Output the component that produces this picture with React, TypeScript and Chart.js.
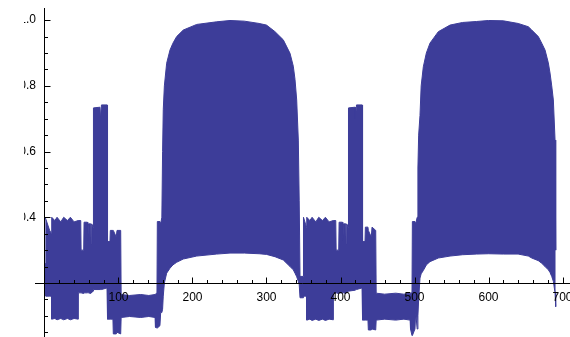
import React, { useEffect, useRef } from "react";
import { Chart, registerables } from "chart.js";

Chart.register(...registerables);

// x positions of envelope samples
const xs = [
  1, 2, 7, 9.5,
  9.8, 14, 17, 22, 26, 31, 35, 40, 45.5,
  45.8, 49, 49.5, 53, 53.5, 58, 58.5, 59.5, 62.5, 63, 63.8, 65.8,
  66.2, 75, 75.6, 77, 84.5,
  85.2, 88.5, 89, 92.5, 93, 97, 98, 103,
  103.6, 115, 130, 141, 149.5, 150, 152,
  152.5, 156, 157,
  158.6, 159.6, 160.5, 162, 165.1, 169.6, 173.6, 178.6, 187.6, 205.7, 232.7, 250.7, 270, 290, 300, 311.5, 322.7, 331.8, 336.2, 338.5, 340.8, 343, 344.2, 345.3,
  349.5, 350, 354,
  354.4, 358.6, 361.6, 366.6, 370.6, 375.6, 379.6, 384.6, 390.1,
  390.4, 393.6, 394.1, 397.6, 398.1, 402.6, 403.1, 404.1, 407.1, 407.6, 408.4, 410.4,
  410.8, 419.6, 420.2, 421.6, 429.1,
  429.8, 433.1, 433.6, 437.1, 437.6, 441.6, 442.6, 447.6,
  448.2, 459.6, 474.6, 485.6, 494.1, 494.6, 496.6,
  497.1, 500.6, 501.6,
  503.6, 504.6, 505.6, 507.4, 509, 511.9, 516, 520.9, 532.2, 548, 565, 584, 600, 620, 640, 653.8, 658.4, 667.3, 671.9, 676.4, 680.8, 683.1, 685.4, 687.6, 689.9, 690.8,
];

// upper envelope of the oscillation
const upperVals = [
  0.4, 0.4, 0.36, 0.35,
  0.4, 0.39, 0.4, 0.386, 0.4, 0.39, 0.4, 0.386, 0.39,
  0.39, 0.39, 0.3, 0.3, 0.385, 0.385, 0.33, 0.38, 0.38, 0.32, 0.38, 0.37,
  0.733, 0.735, 0.7, 0.742, 0.742,
  0.326, 0.326, 0.36, 0.36, 0.36, 0.34, 0.36, 0.36,
  0.165, 0.162, 0.165, 0.162, 0.165, 0.165, 0.17,
  0.387, 0.387, 0.38,
  0.4, 0.6, 0.727, 0.8, 0.869, 0.909, 0.93, 0.95, 0.97, 0.987, 0.995, 0.999, 0.997, 0.99, 0.985, 0.965, 0.94, 0.899, 0.86, 0.82, 0.757, 0.635, 0.45, 0.22,
  0.22, 0.4, 0.37,
  0.4, 0.39, 0.4, 0.386, 0.4, 0.39, 0.4, 0.386, 0.39,
  0.39, 0.39, 0.3, 0.3, 0.385, 0.385, 0.33, 0.38, 0.38, 0.32, 0.38, 0.37,
  0.733, 0.735, 0.7, 0.742, 0.742,
  0.326, 0.326, 0.37, 0.37, 0.36, 0.34, 0.37, 0.36,
  0.169, 0.166, 0.169, 0.166, 0.169, 0.169, 0.17,
  0.387, 0.387, 0.38,
  0.4, 0.55, 0.65, 0.71, 0.8, 0.858, 0.9, 0.93, 0.965, 0.985, 0.993, 0.996, 0.999, 0.998, 0.99, 0.98, 0.97, 0.95, 0.93, 0.909, 0.87, 0.839, 0.8, 0.757, 0.635, 0.3,
];

// lower envelope of the oscillation
const lowerVals = [
  0.26, 0.16, 0.16, 0.16,
  0.09, 0.092, 0.088, 0.092, 0.088, 0.092, 0.088, 0.092, 0.09,
  0.17, 0.17, 0.17, 0.168, 0.17, 0.17, 0.172, 0.17, 0.168, 0.17, 0.17, 0.175,
  0.18, 0.18, 0.18, 0.18, 0.185,
  0.09, 0.09, 0.09, 0.09, 0.045, 0.045, 0.05, 0.045,
  0.095, 0.098, 0.095, 0.098, 0.095, 0.065, 0.063,
  0.063, 0.07, 0.11,
  0.11, 0.12, 0.16, 0.2, 0.23, 0.245, 0.255, 0.263, 0.273, 0.282, 0.288, 0.291, 0.291, 0.289, 0.287, 0.28, 0.27, 0.25, 0.24, 0.23, 0.219, 0.205, 0.195, 0.155,
  0.155, 0.16, 0.16,
  0.087, 0.09, 0.086, 0.09, 0.086, 0.09, 0.086, 0.09, 0.088,
  0.169, 0.169, 0.17, 0.168, 0.17, 0.17, 0.172, 0.17, 0.168, 0.17, 0.17, 0.175,
  0.175, 0.178, 0.18, 0.18, 0.185,
  0.087, 0.087, 0.087, 0.087, 0.057, 0.057, 0.06, 0.057,
  0.087, 0.09, 0.087, 0.09, 0.087, 0.06, 0.04,
  0.04, 0.06, 0.11,
  0.06, 0.1, 0.15, 0.215, 0.228, 0.238, 0.255, 0.265, 0.276, 0.282, 0.286, 0.288, 0.289, 0.288, 0.288, 0.282, 0.276, 0.268, 0.26, 0.25, 0.24, 0.232, 0.22, 0.205, 0.17, 0.128,
];

const xMajorTicks = [100, 200, 300, 400, 500, 600, 700];
const xMinorTicks = [
  20, 40, 60, 80, 120, 140, 160, 180, 220, 240, 260, 280, 320, 340, 360, 380,
  420, 440, 460, 480, 520, 540, 560, 580, 620, 640, 660, 680,
];
const yMajorTicks = [0.4, 0.6, 0.8, 1.0];
const yMinorTicks = [
  0.05, 0.1, 0.15, 0.25, 0.3, 0.35, 0.45, 0.5, 0.55, 0.65, 0.7, 0.75, 0.85, 0.9, 0.95,
];

const X_MIN = -12.8;
const X_MAX = 710.1;
const Y_MIN = 0.0356;
const Y_MAX = 1.037;
const AXIS_Y = 0.2;
const AXIS_X = 0;
const COLOR = "#3d3d99";
const FONT = "12px 'Liberation Sans', sans-serif";

const axesPlugin = {
  id: "mmaAxes",
  afterDraw(chart: any) {
    const { ctx, chartArea } = chart;
    const sx = chart.scales.x;
    const sy = chart.scales.y;
    const ay = Math.round(sy.getPixelForValue(AXIS_Y)) + 0.5;
    const ax = Math.round(sx.getPixelForValue(AXIS_X)) + 0.5;
    ctx.save();
    ctx.strokeStyle = "#000";
    ctx.lineWidth = 1;
    ctx.beginPath();
    ctx.moveTo(chartArea.left, ay);
    ctx.lineTo(chartArea.right, ay);
    ctx.moveTo(ax, chartArea.top);
    ctx.lineTo(ax, chartArea.bottom);
    for (const v of xMajorTicks) {
      const p = Math.round(sx.getPixelForValue(v)) + 0.5;
      ctx.moveTo(p, ay);
      ctx.lineTo(p, ay - 6);
    }
    for (const v of xMinorTicks) {
      const p = Math.round(sx.getPixelForValue(v)) + 0.5;
      ctx.moveTo(p, ay);
      ctx.lineTo(p, ay - 3.5);
    }
    for (const v of yMajorTicks) {
      const p = Math.round(sy.getPixelForValue(v)) + 0.5;
      ctx.moveTo(ax, p);
      ctx.lineTo(ax + 6, p);
    }
    for (const v of yMinorTicks) {
      const p = Math.round(sy.getPixelForValue(v)) + 0.5;
      ctx.moveTo(ax, p);
      ctx.lineTo(ax + 3.5, p);
    }
    ctx.stroke();

    ctx.fillStyle = "#000";
    ctx.font = FONT;
    ctx.textAlign = "center";
    ctx.textBaseline = "top";
    for (const v of xMajorTicks) {
      ctx.fillText(String(v), sx.getPixelForValue(v), ay + 8);
    }
    ctx.textAlign = "right";
    ctx.textBaseline = "middle";
    for (const v of yMajorTicks) {
      ctx.fillText(v.toFixed(1), ax - 8.5, sy.getPixelForValue(v));
    }
    ctx.restore();
  },
};

export default function App() {
  const ref = useRef<HTMLCanvasElement | null>(null);

  useEffect(() => {
    if (!ref.current) return;
    const chart = new Chart(ref.current, {
      type: "line",
      data: {
        datasets: [
          {
            data: xs.map((x, i) => ({ x, y: upperVals[i] })),
            borderColor: COLOR,
            backgroundColor: COLOR,
            borderWidth: 1,
            pointRadius: 0,
            tension: 0,
            fill: "+1",
          },
          {
            data: xs.map((x, i) => ({ x, y: lowerVals[i] })),
            borderColor: COLOR,
            backgroundColor: COLOR,
            borderWidth: 1,
            pointRadius: 0,
            tension: 0,
            fill: false,
          },
        ],
      },
      options: {
        animation: false,
        responsive: false,
        devicePixelRatio: 1,
        layout: { padding: { left: 11, right: 0, top: 8, bottom: 0 } },
        plugins: { legend: { display: false }, tooltip: { enabled: false } },
        scales: {
          x: {
            type: "linear",
            min: X_MIN,
            max: X_MAX,
            display: false,
          },
          y: {
            type: "linear",
            min: Y_MIN,
            max: Y_MAX,
            display: false,
          },
        },
      },
      plugins: [axesPlugin],
    });
    return () => chart.destroy();
  }, []);

  return (
    <canvas
      ref={ref}
      width={546}
      height={337}
      style={{ position: "absolute", left: 24, top: 0, width: 546, height: 337 }}
    />
  );
}
